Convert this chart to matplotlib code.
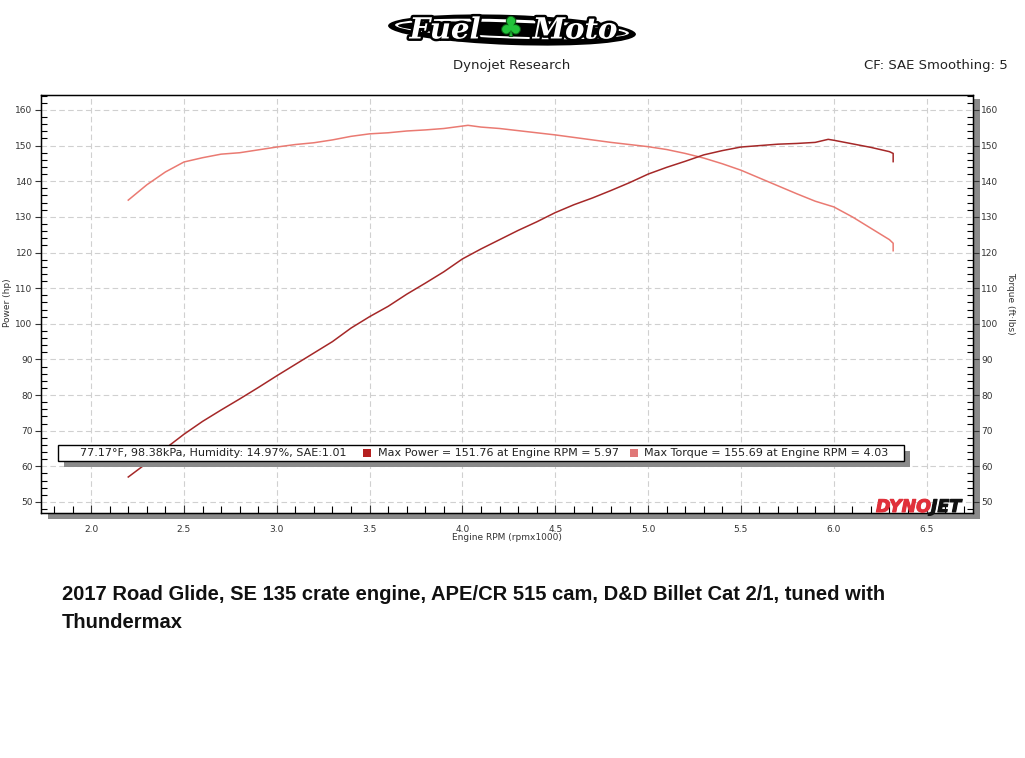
import matplotlib
matplotlib.use("Agg")
import matplotlib.pyplot as plt
from matplotlib.patches import Rectangle, Ellipse
from matplotlib.ticker import MultipleLocator
import matplotlib.patheffects as pe

# ---------------- data ----------------
rpm_power = [2.2, 2.3, 2.4, 2.5, 2.6, 2.7, 2.8, 2.9, 3.0, 3.1, 3.2, 3.3, 3.4, 3.5, 3.6,
             3.7, 3.8, 3.9, 4.0, 4.1, 4.2, 4.3, 4.4, 4.5, 4.6, 4.7, 4.8, 4.9, 5.0, 5.1,
             5.2, 5.3, 5.4, 5.5, 5.6, 5.7, 5.8, 5.9, 5.97, 6.0, 6.1, 6.2, 6.3, 6.32, 6.32]
power_hp = [57.0, 60.9, 65.0, 69.0, 72.6, 75.8, 78.9, 82.1, 85.4, 88.6, 91.8, 95.0, 98.8,
            102.0, 104.9, 108.3, 111.4, 114.6, 118.2, 121.0, 123.6, 126.2, 128.6, 131.2,
            133.4, 135.3, 137.4, 139.6, 142.0, 143.9, 145.6, 147.4, 148.6, 149.6, 150.0,
            150.4, 150.6, 150.9, 151.76, 151.5, 150.5, 149.5, 148.3, 147.8, 145.5]

rpm_torque = [2.2, 2.3, 2.4, 2.5, 2.6, 2.7, 2.8, 2.9, 3.0, 3.1, 3.2, 3.3, 3.4, 3.5, 3.6,
              3.7, 3.8, 3.9, 4.03, 4.1, 4.2, 4.3, 4.4, 4.5, 4.6, 4.7, 4.8, 4.9, 5.0, 5.1,
              5.2, 5.3, 5.4, 5.5, 5.6, 5.7, 5.8, 5.9, 6.0, 6.1, 6.2, 6.3, 6.32, 6.32]
torque_ftlb = [134.7, 139.0, 142.6, 145.4, 146.6, 147.6, 148.0, 148.8, 149.6, 150.3, 150.8,
               151.6, 152.6, 153.3, 153.6, 154.1, 154.4, 154.8, 155.69, 155.2, 154.8, 154.2,
               153.6, 153.0, 152.3, 151.6, 150.9, 150.3, 149.7, 148.9, 147.8, 146.5, 144.9,
               143.1, 140.9, 138.7, 136.5, 134.4, 132.8, 130.0, 126.8, 123.6, 122.6, 120.5]

x_major_ticks = [2.0, 2.5, 3.0, 3.5, 4.0, 4.5, 5.0, 5.5, 6.0, 6.5]
y_major_ticks = [50, 60, 70, 80, 90, 100, 110, 120, 130, 140, 150, 160]

header_left = "Dynojet Research"
header_right = "CF: SAE Smoothing: 5"
legend_conditions = "77.17°F, 98.38kPa, Humidity: 14.97%, SAE:1.01"
legend_power = "Max Power = 151.76 at Engine RPM = 5.97"
legend_torque = "Max Torque = 155.69 at Engine RPM = 4.03"
caption_lines = ["2017 Road Glide, SE 135 crate engine, APE/CR 515 cam, D&D Billet Cat 2/1, tuned with",
                 "Thundermax"]

POWER_COLOR = "#a52828"
TORQUE_COLOR = "#ea7a72"

W, H = 1025, 758


def fx(x):
    return x / W


def fy(y):
    return 1 - y / H


fig = plt.figure(figsize=(W / 100, H / 100), dpi=100)
fig.patch.set_facecolor("white")

# shadow of plot frame
shadow = fig.add_axes([fx(48), fy(519), (980 - 48) / W, (519 - 99) / H])
shadow.set_facecolor("#8a8a8a")
shadow.set_xticks([]); shadow.set_yticks([])
for s in shadow.spines.values():
    s.set_visible(False)

ax = fig.add_axes([fx(41), fy(513), (973 - 41) / W, (513 - 95) / H])
ax.set_facecolor("white")
ax.set_xlim(1.73, 6.75)
ax.set_ylim(46.9, 164.2)

ax.plot(rpm_torque, torque_ftlb, color=TORQUE_COLOR, lw=1.1, zorder=3)
ax.plot(rpm_power, power_hp, color=POWER_COLOR, lw=1.1, zorder=4)

ax.set_xticks(x_major_ticks)
ax.xaxis.set_minor_locator(MultipleLocator(0.1))
ax.set_yticks(y_major_ticks)
ax.yaxis.set_minor_locator(MultipleLocator(2))
ax.set_xticklabels([f"{v:.1f}" for v in x_major_ticks])
ax.tick_params(axis="x", which="major", direction="in", length=6, width=0.8, pad=9,
               labelsize=6.5, colors="#333333")
ax.tick_params(axis="x", which="minor", direction="in", length=5, width=0.8)
ax.tick_params(axis="y", which="major", direction="out", length=4, width=0.8, pad=2,
               labelsize=6.5, colors="#333333")
ax.tick_params(axis="y", which="minor", direction="in", length=4, width=0.8)
ax.grid(True, which="major", color="#d0d0d0", lw=0.8, linestyle=(0, (5, 3)))
for s in ax.spines.values():
    s.set_color("black"); s.set_linewidth(1.0)

ax2 = ax.twinx()
ax2.set_ylim(ax.get_ylim())
ax2.set_yticks(y_major_ticks)
ax2.yaxis.set_minor_locator(MultipleLocator(2))
ax2.tick_params(axis="y", which="major", direction="out", length=4, width=0.8, pad=2,
                labelsize=6.5, colors="#333333")
ax2.tick_params(axis="y", which="minor", direction="in", length=4, width=0.8)

fig.text(fx(8), fy(303), "Power (hp)", rotation=90, ha="center", va="center",
         fontsize=6.5, color="#333333")
fig.text(fx(1011), fy(303), "Torque (ft·lbs)", rotation=270, ha="center", va="center",
         fontsize=6.5, color="#333333")
fig.text(fx(507), fy(537), "Engine RPM (rpmx1000)", ha="center", va="center",
         fontsize=6.5, color="#333333")

# DYNOJET logo in plot corner
fig.text(fx(876), fy(507), "DYNO", ha="left", va="center", fontsize=12.5,
         fontweight="heavy", style="italic", color="#e0303a", family="DejaVu Sans",
         path_effects=[pe.withStroke(linewidth=0.8, foreground="#e0303a")])
fig.text(fx(931), fy(507), "JET", ha="left", va="center", fontsize=12.5,
         fontweight="heavy", style="italic", color="#111111", family="DejaVu Sans",
         path_effects=[pe.withStroke(linewidth=0.8, foreground="#111111")])

# header
fig.text(fx(512), fy(66), header_left, ha="center", va="center", fontsize=9.5,
         color="#222222")
fig.text(fx(1008), fy(66), header_right, ha="right", va="center", fontsize=9.5,
         color="#222222")

# Fuel Moto logo
logo = fig.add_axes([fx(385), fy(54), (640 - 385) / W, (54 - 6) / H])
logo.set_xlim(0, 255); logo.set_ylim(0, 48)
logo.axis("off")
logo.add_patch(Ellipse((127, 24), 248, 30, angle=-2, facecolor="black"))
logo.add_patch(Ellipse((127, 25), 234, 19, angle=-2, facecolor="white"))
logo.add_patch(Ellipse((127, 24.5), 228, 14, angle=-2, facecolor="black"))
for txt, xc in (("Fuel", 60), ("Moto", 190)):
    logo.text(xc, 24, txt, ha="center", va="center", fontsize=21, fontweight="bold",
              style="italic", color="white", family="DejaVu Serif",
              path_effects=[pe.withStroke(linewidth=3.5, foreground="black")])
logo.text(126, 25, "♣", ha="center", va="center", fontsize=19, color="#22c33a",
          path_effects=[pe.withStroke(linewidth=1.5, foreground="#0a5a14")])

# legend box with shadow
fig.patches.append(Rectangle((fx(64), fy(467)), (910 - 64) / W, (467 - 451) / H,
                             transform=fig.transFigure, facecolor="#8a8a8a",
                             edgecolor="none", zorder=5))
fig.patches.append(Rectangle((fx(58), fy(461)), (904 - 58) / W, (461 - 445) / H,
                             transform=fig.transFigure, facecolor="white",
                             edgecolor="black", lw=1.0, zorder=6))
fig.text(fx(80), fy(453), legend_conditions, ha="left", va="center", fontsize=8,
         color="#222222", zorder=7)
fig.patches.append(Rectangle((fx(363), fy(457)), 8 / W, 8 / H, transform=fig.transFigure,
                             facecolor="#b52020", edgecolor="none", zorder=7))
fig.text(fx(378), fy(453), legend_power, ha="left", va="center", fontsize=8,
         color="#222222", zorder=7)
fig.patches.append(Rectangle((fx(630), fy(457)), 8 / W, 8 / H, transform=fig.transFigure,
                             facecolor="#e07878", edgecolor="none", zorder=7))
fig.text(fx(644), fy(453), legend_torque, ha="left", va="center", fontsize=8,
         color="#222222", zorder=7)

# caption
fig.text(fx(62), fy(595), caption_lines[0], ha="left", va="center", fontsize=14.5,
         fontweight="bold", family="Liberation Sans", color="#111111")
fig.text(fx(62), fy(623), caption_lines[1], ha="left", va="center", fontsize=14.5,
         fontweight="bold", family="Liberation Sans", color="#111111")

fig.savefig("out.png", dpi=100, facecolor="white")
